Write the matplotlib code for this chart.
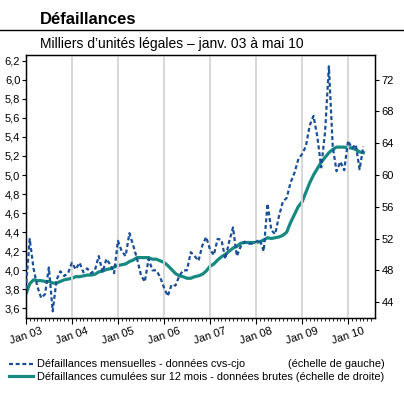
import matplotlib
matplotlib.use('Agg')
import matplotlib.pyplot as plt
import numpy as np
from matplotlib.lines import Line2D
from matplotlib.ticker import FixedLocator, FuncFormatter

plt.rcParams['font.family'] = ['Liberation Sans', 'DejaVu Sans']

# Monthly failures, seasonally adjusted (thousands) - left scale, Jan 03 .. May 10
monthly = [
    3.80, 4.33, 4.02, 3.83, 3.71, 3.75, 4.03, 3.57, 3.90, 3.99, 3.94, 3.97,
    4.08, 4.01, 4.08, 3.98, 4.02, 3.97, 4.00, 4.15, 3.98, 4.12, 4.06, 3.97,
    4.31, 4.20, 4.15, 4.39, 4.26, 4.12, 3.95, 3.88, 4.12, 4.00, 4.00, 3.93,
    3.82, 3.73, 3.85, 3.84, 3.94, 4.00, 4.00, 4.19, 4.15, 4.10, 4.26, 4.35,
    4.22, 4.16, 4.33, 4.32, 4.12, 4.30, 4.45, 4.15, 4.25, 4.30, 4.28, 4.28,
    4.30, 4.32, 4.20, 4.70, 4.42, 4.38, 4.57, 4.72, 4.76, 4.92, 5.02, 5.16,
    5.22, 5.30, 5.52, 5.62, 5.40, 5.08, 5.45, 6.14, 5.30, 5.04, 5.14, 5.05,
    5.36, 5.28, 5.32, 5.06, 5.30,
]

# 12-month cumulated failures, raw data (thousands) - right scale
cumulated = [
    45.0, 46.3, 46.8, 46.7, 46.7, 46.6, 46.6, 46.4, 46.4, 46.6, 46.8, 46.9,
    47.0, 47.2, 47.2, 47.3, 47.4, 47.4, 47.5, 47.8, 47.9, 48.1, 48.2, 48.4,
    48.6, 48.7, 48.8, 49.1, 49.3, 49.6, 49.6, 49.6, 49.6, 49.4, 49.4, 49.2,
    49.0, 48.6, 48.1, 47.6, 47.3, 47.2, 47.0, 47.0, 47.2, 47.3, 47.5, 47.9,
    48.5, 48.8, 49.3, 49.7, 50.0, 50.4, 50.8, 51.0, 51.4, 51.5, 51.5, 51.5,
    51.5, 51.6, 51.8, 52.1, 52.0, 52.1, 52.2, 52.4, 52.8, 54.0, 55.0, 56.0,
    56.6, 57.8, 59.0, 60.0, 60.8, 61.6, 62.2, 62.8, 63.2, 63.5, 63.5, 63.5,
    63.4, 63.4, 63.2, 62.9, 62.8,
]

year_labels = ['Jan 03', 'Jan 04', 'Jan 05', 'Jan 06', 'Jan 07', 'Jan 08', 'Jan 09', 'Jan 10']
left_ticks = [3.6, 3.8, 4.0, 4.2, 4.4, 4.6, 4.8, 5.0, 5.2, 5.4, 5.6, 5.8, 6.0, 6.2]
right_ticks = [44, 48, 52, 56, 60, 64, 68, 72]

label_monthly = 'Défaillances mensuelles - données cvs-cjo'
label_cumul = 'Défaillances cumulées sur 12 mois - données brutes (échelle de droite)'

BLUE = '#1b4f96'
TEAL = '#168a80'

months = np.arange(len(monthly))

fig = plt.figure(figsize=(4.04, 3.98), dpi=100)
ax = fig.add_axes([0.064, 0.201, 0.864, 0.661])
ax2 = ax.twinx()

# Year gridlines
for i in range(1, len(year_labels)):
    ax.axvline(12 * i, color='#d4d4d4', linewidth=1.3, zorder=0)

ax.plot(months, monthly, color=BLUE, linewidth=1.6, linestyle=(0, (1.8, 1.2)), zorder=3)
ax2.plot(months, cumulated, color=TEAL, linewidth=2.3, zorder=2)
ax.set_zorder(ax2.get_zorder() + 1)
ax.patch.set_visible(False)

ax.set_xlim(0, 91)
ax.set_ylim(3.5, 6.26)
ax2.set_ylim(42, 75.1)

ax.xaxis.set_major_locator(FixedLocator([12 * i for i in range(len(year_labels))]))
ax.xaxis.set_minor_locator(FixedLocator(list(range(0, 91))))
ax.set_xticklabels(year_labels, rotation=18, ha='center')
ax.set_yticks(left_ticks)
ax.yaxis.set_major_formatter(FuncFormatter(lambda v, p: f'{v:.1f}'.replace('.', ',')))
ax2.set_yticks(right_ticks)

ax.tick_params(axis='x', which='major', length=4, labelsize=8, pad=2, direction='out')
ax.tick_params(axis='x', which='minor', length=2.5, direction='out')
ax.tick_params(axis='y', length=3, labelsize=8, pad=1)
ax2.tick_params(axis='y', length=3, labelsize=8, pad=2)

for a in (ax, ax2):
    for s in a.spines.values():
        s.set_linewidth(0.9)

# Titles
fig.text(40 / 404, 1 - 20 / 398, 'Défaillances', fontsize=12, fontweight='bold', va='center')
fig.add_artist(Line2D([0, 1], [1 - 30 / 398, 1 - 30 / 398], color='black', linewidth=1.0))
fig.text(40 / 404, 1 - 44 / 398, 'Milliers d\u2019unités légales \u2013 janv. 03 à mai 10',
         fontsize=10, va='center')

# Legend
handles = [
    Line2D([], [], color=BLUE, linewidth=1.6, linestyle=(0, (1.8, 1.2))),
    Line2D([], [], color=TEAL, linewidth=2.3),
]
fig.legend(handles, [label_monthly, label_cumul], loc='upper left',
           bbox_to_anchor=(0.012, 1 - 355 / 398), frameon=False, fontsize=7.9,
           handlelength=2.2, handletextpad=0.3, labelspacing=0.22, borderaxespad=0)
fig.text(288 / 404, 1 - 364 / 398, '(échelle de gauche)', fontsize=7.9, va='center')

fig.savefig('out.png', dpi=100)
